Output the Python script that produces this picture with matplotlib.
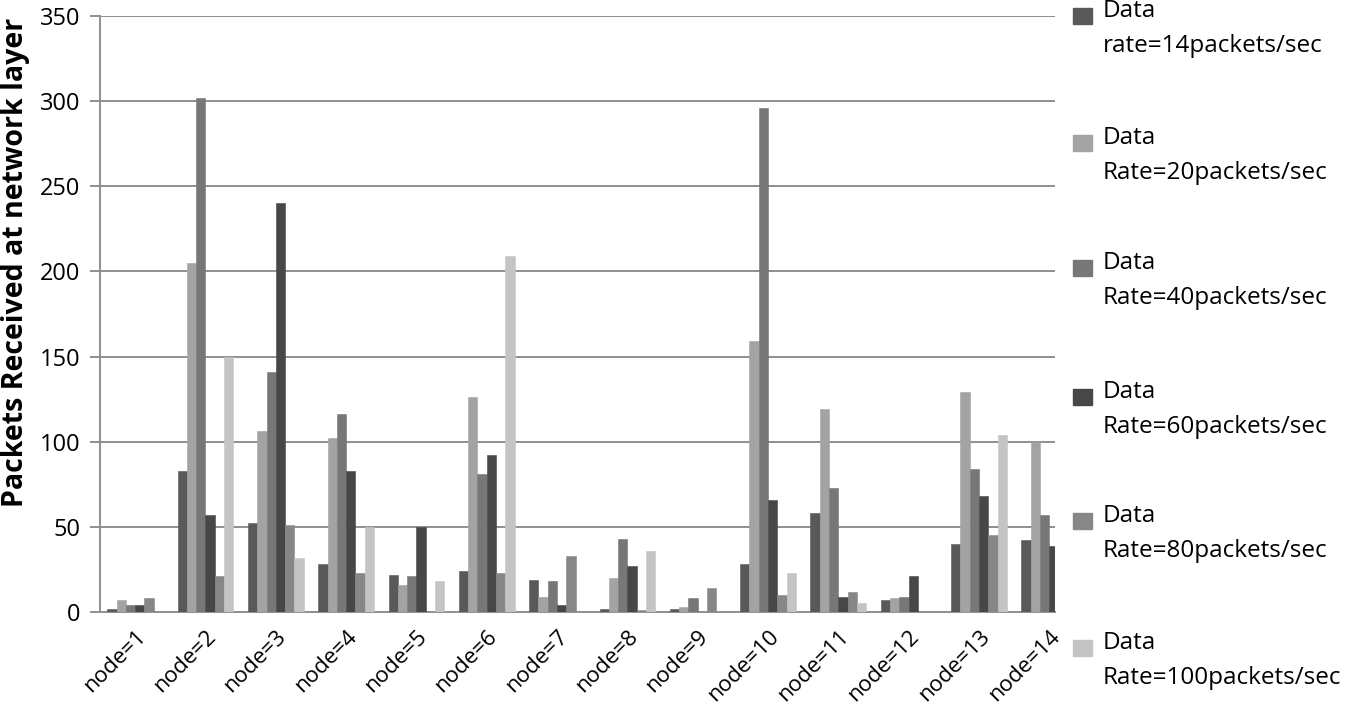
import matplotlib
matplotlib.use("Agg")
import matplotlib.pyplot as plt
from matplotlib.patches import Rectangle
import numpy as np

plt.rcParams['font.family'] = ['Open Sans', 'DejaVu Sans']

categories = ["node=1", "node=2", "node=3", "node=4", "node=5", "node=6", "node=7",
              "node=8", "node=9", "node=10", "node=11", "node=12", "node=13", "node=14"]

rate14 = [2, 83, 52, 28, 22, 24, 19, 2, 2, 28, 58, 7, 40, 42]
rate20 = [7, 205, 106, 102, 16, 126, 9, 20, 3, 159, 119, 8, 129, 100]
rate40 = [4, 302, 141, 116, 21, 81, 18, 43, 8, 296, 73, 9, 84, 57]
rate60 = [4, 57, 240, 83, 50, 92, 4, 27, 0, 66, 9, 21, 68, 39]
rate80 = [8, 21, 51, 23, 0, 23, 33, 1, 14, 10, 12, 0, 45, 0]
rate100 = [0, 150, 32, 50, 18, 209, 0, 36, 0, 23, 5, 0, 104, 0]

series = [rate14, rate20, rate40, rate60, rate80, rate100]
labels = ["Data\nrate=14packets/sec", "Data\nRate=20packets/sec", "Data\nRate=40packets/sec",
          "Data\nRate=60packets/sec", "Data\nRate=80packets/sec", "Data\nRate=100packets/sec"]
colors = ["#595959", "#a3a3a3", "#777777", "#474747", "#878787", "#c4c4c4"]

W, H = 1347, 711
fig = plt.figure(figsize=(W / 100, H / 100), dpi=100)
ax = fig.add_axes([100 / W, 1 - 612 / H, (1055 - 100) / W, (612 - 16) / H])

x = np.arange(len(categories))
bw = 0.1323
start = -3 * bw
for k, (vals, c) in enumerate(zip(series, colors)):
    ax.bar(x + start + k * bw, vals, width=bw, align='edge', color=c,
           edgecolor=c, linewidth=0.4, zorder=3)

ax.set_xlim(-0.5, 13.08)
ax.set_ylim(0, 350)
ax.set_yticks(range(0, 351, 50))
ax.yaxis.grid(True, color='#8f8f8f', linewidth=1.4, zorder=0)
ax.set_axisbelow(True)
for s in ['top', 'right']:
    ax.spines[s].set_visible(False)
for s in ['left', 'bottom']:
    ax.spines[s].set_color('#8f8f8f')
    ax.spines[s].set_linewidth(1.4)
ax.tick_params(axis='y', length=7, width=1.4, color='#8f8f8f', labelsize=17, pad=7)
ax.tick_params(axis='x', length=0, labelsize=16, pad=10)
ax.set_xticks(x)
ax.set_xticklabels(categories, rotation=45, ha='right', rotation_mode='anchor')
ax.set_ylabel("Packets Received at network layer", fontsize=20.5, fontweight='bold')
ax.yaxis.set_label_coords(-0.073, 0.586)

# legend drawn manually
ys = [16, 143, 268, 397, 521, 648]
for yy, lab, c in zip(ys, labels, colors):
    fig.add_artist(Rectangle((1073 / W, 1 - (yy + 8) / H), 19 / W, 16 / H,
                             transform=fig.transFigure, color=c))
    fig.text(1103 / W, 1 - (yy - 17) / H, lab, fontsize=17.5, va='top', ha='left',
             linespacing=1.6)

fig.savefig("out.png", dpi=100)
